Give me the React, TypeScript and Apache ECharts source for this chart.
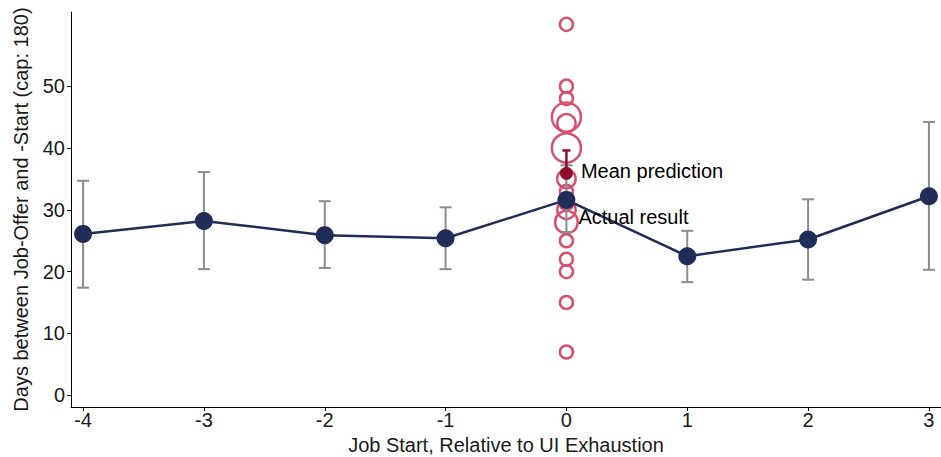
import React, { useEffect, useRef } from "react";
import * as echarts from "echarts";

const xCats = [-4, -3, -2, -1, 0, 1, 2, 3];
const meanDays = [26.1, 28.2, 25.9, 25.4, 31.6, 22.5, 25.2, 32.2];
const ciLow = [17.4, 20.4, 20.6, 20.4, 26.4, 18.3, 18.7, 20.3];
const ciHigh = [34.7, 36.1, 31.4, 30.4, 37.2, 26.6, 31.7, 44.2];

const outcomeDays = [60, 50, 48, 45, 44, 40, 35, 33, 31, 30, 28, 25, 22, 20, 15, 7];
const outcomeCounts = [1, 1, 1, 5, 2, 5, 2, 1, 1, 2, 3, 1, 1, 1, 1, 1];

const predictionX = 0;
const predictionMean = 35.9;
const predictionHigh = 39.6;

const yTicks = [0, 10, 20, 30, 40, 50];

export default function App() {
  const ref = useRef<HTMLDivElement>(null);
  useEffect(() => {
    document.body.style.margin = "0";
    if (!ref.current) return;
    const chart = echarts.init(ref.current, null, { renderer: "svg" });
    const font = "Liberation Sans, Arial, sans-serif";

    const errData = xCats.map((x, i) => [x, ciLow[i], ciHigh[i]]);
    const errRender = (color: string, cap: number, width: number) => (params: any, api: any) => {
      const x = api.value(0);
      const lo = api.coord([x, api.value(1)]);
      const hi = api.coord([x, api.value(2)]);
      const st = { stroke: color, lineWidth: width };
      return {
        type: "group",
        children: [
          { type: "line", shape: { x1: lo[0], y1: lo[1], x2: hi[0], y2: hi[1] }, style: st },
          { type: "line", shape: { x1: lo[0] - cap, y1: lo[1], x2: lo[0] + cap, y2: lo[1] }, style: st },
          { type: "line", shape: { x1: hi[0] - cap, y1: hi[1], x2: hi[0] + cap, y2: hi[1] }, style: st },
        ],
      };
    };

    const lineData = xCats.map((x, i) => {
      if (x === 0) {
        return {
          value: [x, meanDays[i]],
          label: {
            show: true,
            position: "right",
            formatter: "Actual result",
            offset: [-2, 17],
            color: "#000",
            fontSize: 20,
            fontFamily: font,
          },
        };
      }
      return [x, meanDays[i]];
    });

    chart.setOption({
      animation: false,
      grid: { left: 71, right: 0, top: 12, bottom: 50, containLabel: false, outerBoundsMode: "none" },
      xAxis: {
        type: "value",
        min: -4.1,
        max: 3.1,
        name: "Job Start, Relative to UI Exhaustion",
        nameLocation: "middle",
        nameGap: 26,
        nameTextStyle: { fontSize: 20, color: "#1a1a1a", fontFamily: font },
        axisLine: { show: true, onZero: false, lineStyle: { color: "#000", width: 1 } },
        axisTick: { show: true, length: 4, lineStyle: { color: "#000" }, customValues: xCats },
        axisLabel: { fontSize: 20, color: "#1a1a1a", fontFamily: font, margin: 3, customValues: xCats },
        splitLine: { show: false },
      },
      yAxis: {
        type: "value",
        min: -1.9,
        max: 62,
        name: "Days between Job-Offer and -Start (cap: 180)",
        nameLocation: "middle",
        nameGap: 40,
        nameTextStyle: { fontSize: 20, color: "#1a1a1a", fontFamily: font },
        axisLine: { show: true, onZero: false, lineStyle: { color: "#000", width: 1 } },
        axisTick: { show: true, length: 4, lineStyle: { color: "#000" }, customValues: yTicks },
        axisLabel: { fontSize: 20, color: "#1a1a1a", fontFamily: font, margin: 6, customValues: yTicks },
        splitLine: { show: false },
      },
      series: [
        {
          type: "scatter",
          z: 2,
          data: outcomeDays.map((v, i) => [0, v, outcomeCounts[i]]),
          symbol: "circle",
          symbolSize: (val: number[]) => 13 * Math.sqrt(val[2]),
          itemStyle: { color: "rgba(0,0,0,0)", borderColor: "#D6516F", borderWidth: 2.5, opacity: 1 },
        },
        {
          type: "custom",
          z: 3,
          data: errData,
          renderItem: errRender("#8C8C8C", 6, 2),
        },
        {
          type: "custom",
          z: 4,
          data: [[predictionX, predictionMean, predictionHigh]],
          renderItem: errRender("#8E0E2E", 4, 2.5),
        },
        {
          type: "line",
          z: 5,
          data: lineData,
          symbol: "circle",
          symbolSize: 18,
          lineStyle: { color: "#1F2D57", width: 2.5 },
          itemStyle: { color: "#1F2D57" },
        },
        {
          type: "scatter",
          z: 6,
          data: [[predictionX, predictionMean]],
          symbol: "circle",
          symbolSize: 13,
          itemStyle: { color: "#8E0E2E", opacity: 1 },
          label: {
            show: true,
            position: "right",
            formatter: "Mean prediction",
            distance: 8,
            offset: [0, -2],
            color: "#000",
            fontSize: 20,
            fontFamily: font,
          },
        },
      ],
    });
    return () => chart.dispose();
  }, []);
  return <div ref={ref} style={{ width: 941, height: 457 }} />;
}
